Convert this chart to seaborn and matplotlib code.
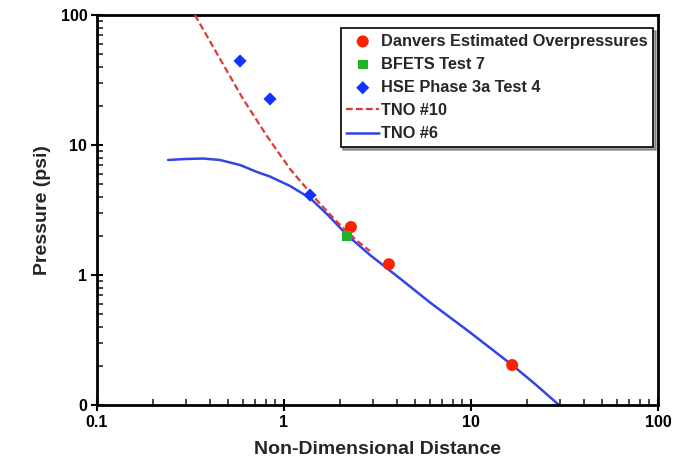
import matplotlib
matplotlib.use("Agg")
import matplotlib.pyplot as plt
import seaborn as sns
import pandas as pd
from matplotlib.ticker import LogLocator, NullFormatter

# ---- data ----
danvers_x = [2.28, 3.64, 16.6]
danvers_y = [2.34, 1.21, 0.203]

bfets_x = [2.17]
bfets_y = [2.0]

hse_x = [0.582, 0.842, 1.377]
hse_y = [44.3, 22.6, 4.12]

tno10_x = [0.334, 0.455, 0.604, 0.811, 1.077, 1.43, 1.92, 2.46, 2.88]
tno10_y = [100.0, 45.9, 22.6, 11.7, 6.54, 4.05, 2.56, 1.83, 1.53]

tno6_x = [0.240, 0.2955, 0.3688, 0.4547, 0.5816, 0.7172, 0.8415, 1.077, 1.377,
          1.719, 2.173, 2.884, 4.173, 6.035, 9.88, 16.6, 22.0, 29.55]
tno6_y = [7.67, 7.80, 7.87, 7.67, 7.02, 6.20, 5.72, 4.84, 3.91,
          2.89, 2.03, 1.425, 0.940, 0.615, 0.362, 0.203, 0.145, 0.100]

x_ticks = [0.1, 1, 10, 100]
x_labels = ["0.1", "1", "10", "100"]
y_ticks = [0.1, 1, 10, 100]
y_labels = ["0", "1", "10", "100"]

sns.set_style("white")
plt.rcParams['font.family'] = ['Liberation Sans', 'DejaVu Sans']
plt.rcParams['font.weight'] = 'bold'

fig = plt.figure(figsize=(6.89, 4.62), dpi=100)
ax = fig.add_axes([97/689, 1-405/462, 561/689, 390/462])

df_d = pd.DataFrame({"x": danvers_x, "y": danvers_y})
df_b = pd.DataFrame({"x": bfets_x, "y": bfets_y})
df_h = pd.DataFrame({"x": hse_x, "y": hse_y})
df_10 = pd.DataFrame({"x": tno10_x, "y": tno10_y})
df_6 = pd.DataFrame({"x": tno6_x, "y": tno6_y})

sns.lineplot(data=df_6, x="x", y="y", ax=ax, color="#3344e6", lw=1.8,
             sort=False, estimator=None, label="TNO #6", zorder=2)
sns.lineplot(data=df_10, x="x", y="y", ax=ax, color="#e0383a", lw=1.6,
             sort=False, estimator=None, label="TNO #10", zorder=3,
             linestyle=(0, (3, 1.5)))
sns.scatterplot(data=df_d, x="x", y="y", ax=ax, color="#ff2200", marker="o",
                s=75, edgecolor="none", label="Danvers Estimated Overpressures", zorder=5)
sns.scatterplot(data=df_b, x="x", y="y", ax=ax, color="#22b22a", marker="s",
                s=50, edgecolor="none", label="BFETS Test 7", zorder=6)
sns.scatterplot(data=df_h, x="x", y="y", ax=ax, color="#1133ff", marker="D",
                s=45, edgecolor="none", label="HSE Phase 3a Test 4", zorder=5)

ax.set_xscale("log")
ax.set_yscale("log")
ax.set_xlim(0.1, 100)
ax.set_ylim(0.1, 100)
ax.set_xticks(x_ticks, labels=x_labels)
ax.set_yticks(y_ticks, labels=y_labels)
ax.xaxis.set_minor_locator(LogLocator(base=10, subs=range(2, 10)))
ax.yaxis.set_minor_locator(LogLocator(base=10, subs=range(2, 10)))
ax.xaxis.set_minor_formatter(NullFormatter())
ax.yaxis.set_minor_formatter(NullFormatter())
ax.tick_params(which="major", direction="inout", length=8, width=1.5,
               labelsize=11.5, colors="black", pad=3, bottom=True, left=True)
ax.tick_params(which="minor", direction="in", length=4, width=1.2,
               bottom=True, left=True)
for lab in ax.get_xticklabels() + ax.get_yticklabels():
    lab.set_fontweight("bold")

for sp in ax.spines.values():
    sp.set_linewidth(2)
    sp.set_color("black")
    sp.set_visible(True)

ax.set_xlabel("Non-Dimensional Distance", fontsize=14, fontweight="bold", labelpad=8)
ax.set_ylabel("Pressure (psi)", fontsize=14, fontweight="bold", labelpad=7)

handles, labels = ax.get_legend_handles_labels()
order = ["Danvers Estimated Overpressures", "BFETS Test 7", "HSE Phase 3a Test 4",
         "TNO #10", "TNO #6"]
hmap = dict(zip(labels, handles))
leg = ax.legend([hmap[k] for k in order], order, loc="upper right",
                bbox_to_anchor=((653-97)/561, (405-28)/390), borderaxespad=0,
                frameon=True, fancybox=False, shadow=True, edgecolor="black",
                prop={"weight": "bold", "size": 11.75}, handlelength=2.0,
                handletextpad=0.1, labelspacing=0.5, borderpad=0.35)
leg.get_frame().set_linewidth(1.2)

fig.savefig("out.png", dpi=100)
